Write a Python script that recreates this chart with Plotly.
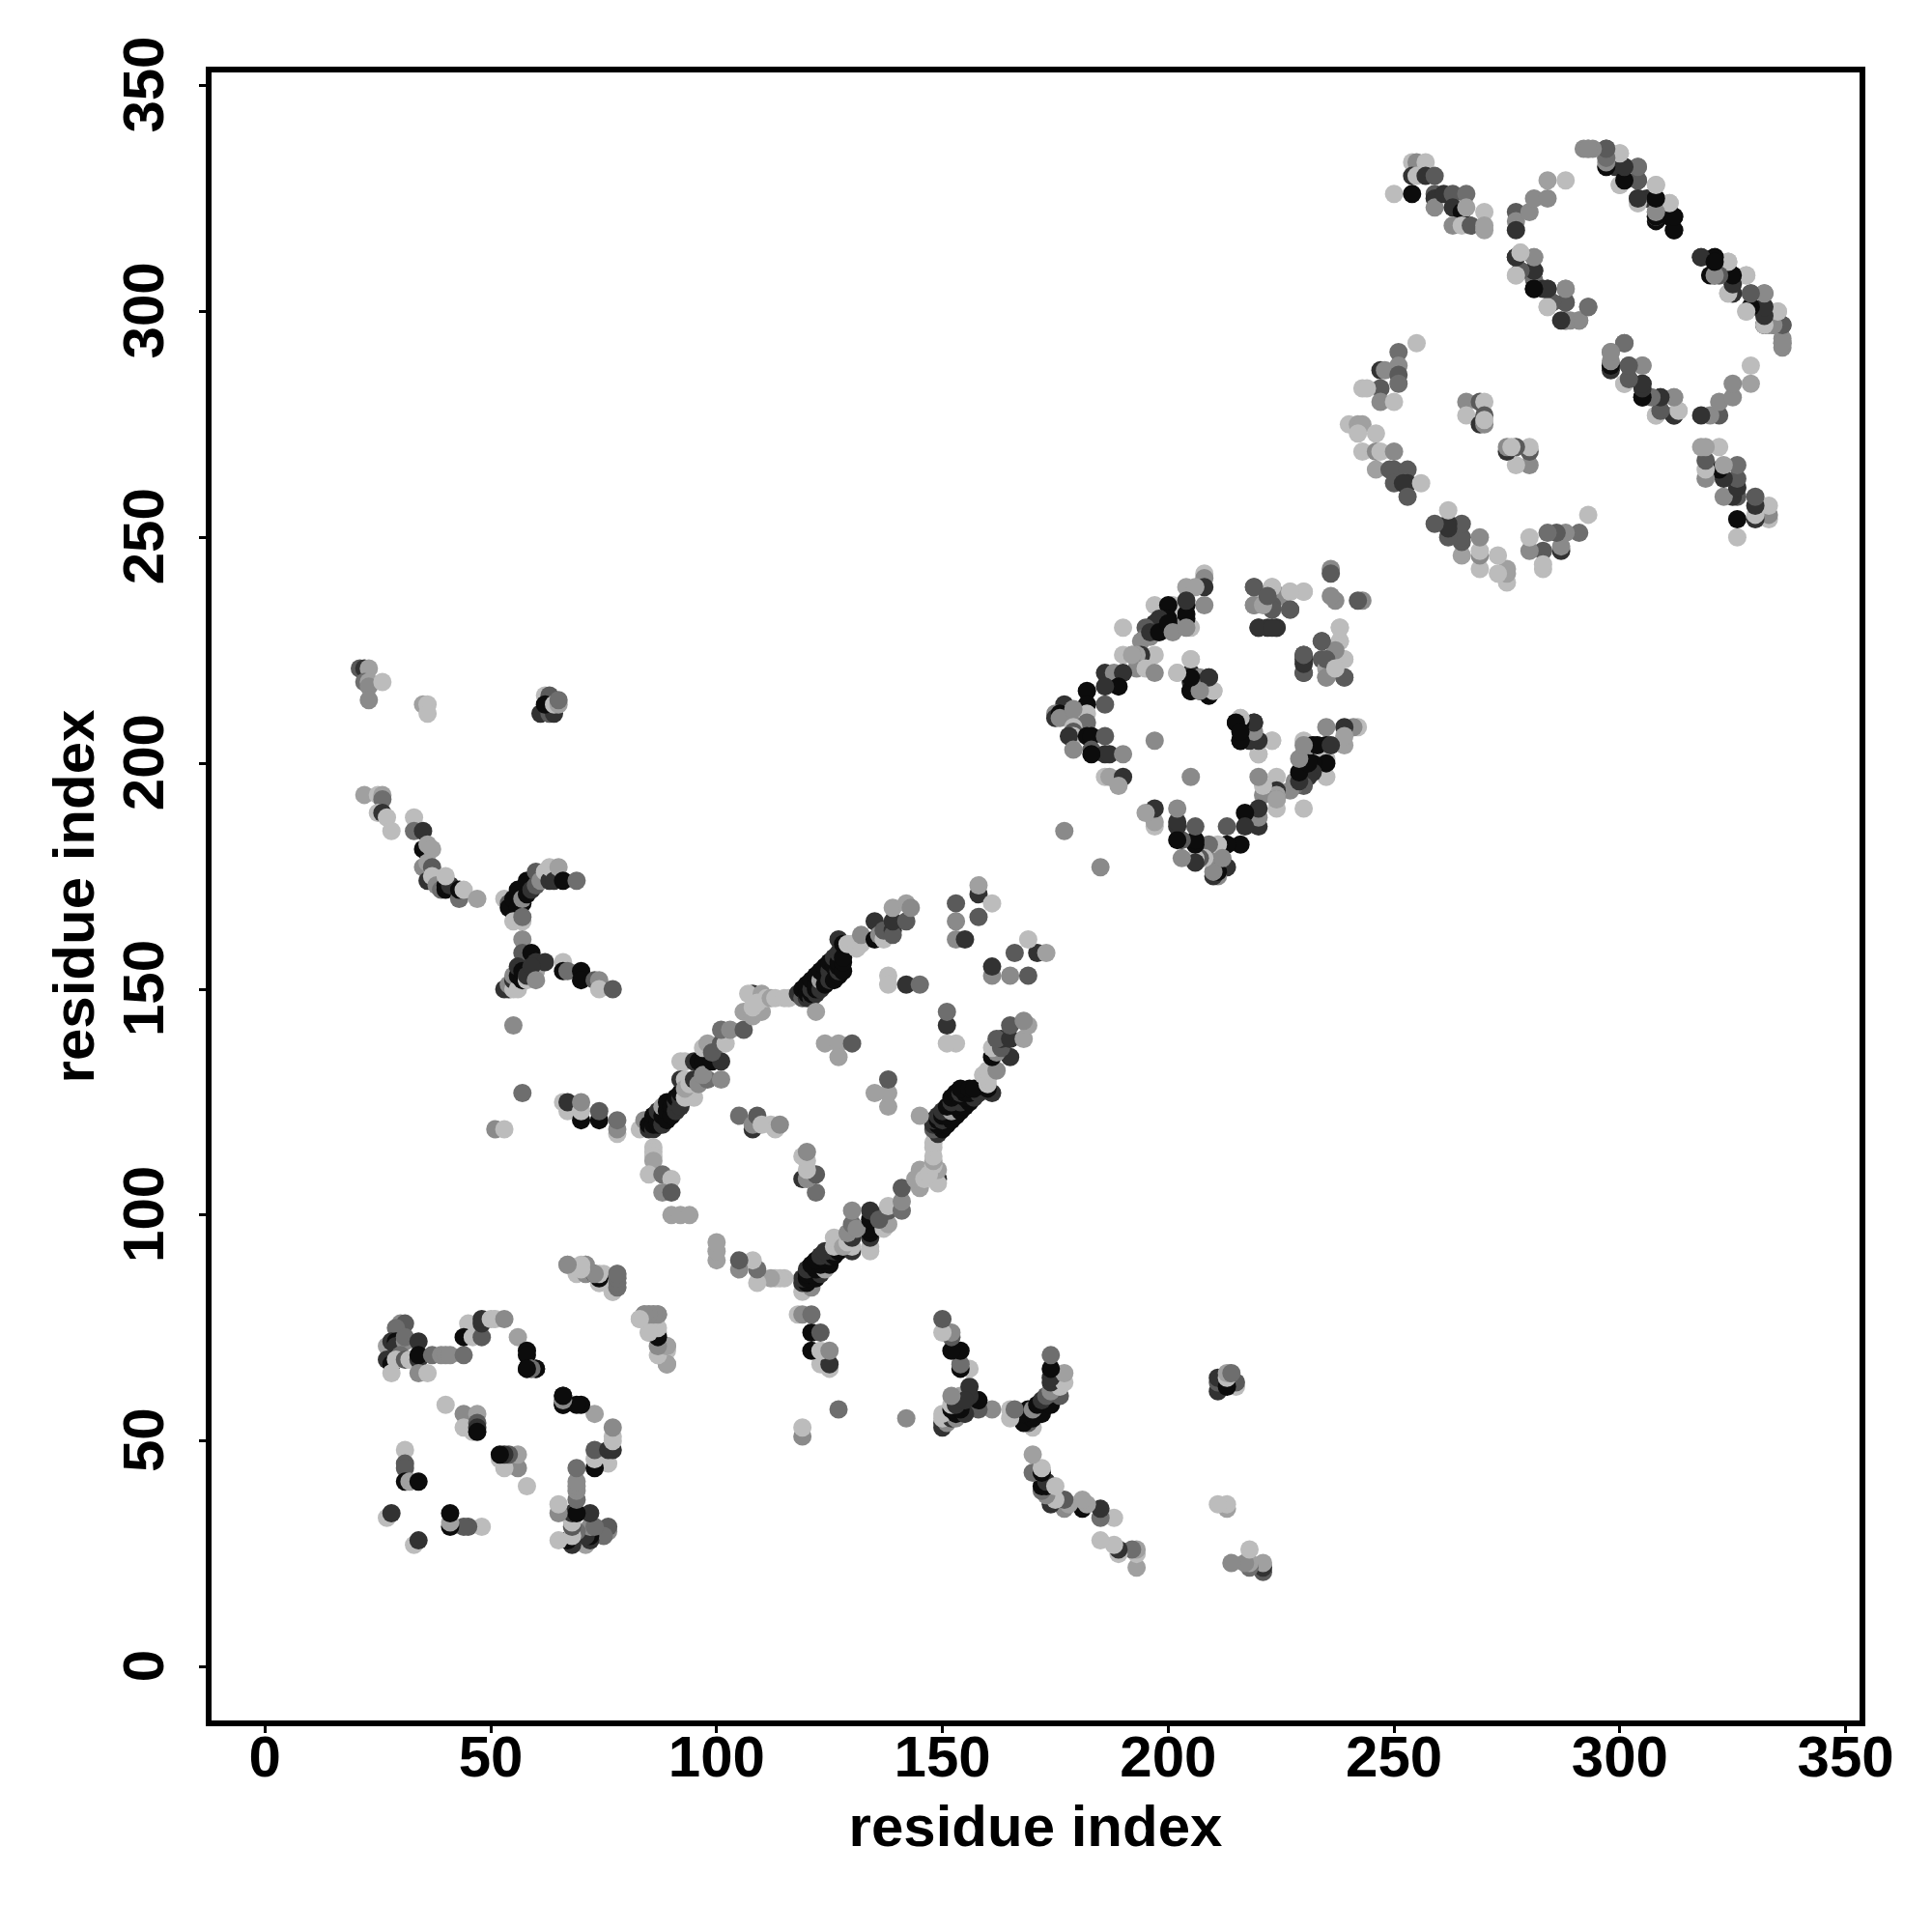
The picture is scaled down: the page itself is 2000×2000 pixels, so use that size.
import plotly.graph_objects as go

# contact score levels (higher = darker)
B, D, G, K, M, S, L = 0.94, 0.75, 0.55, 0.45, 0.31, 0.20, 0.06

contacts_n_term = [
 (21,221,G),(22,221,D),(23,221,S),(22,218,K),(23,218,S),(23,217,M),(26,218,L),(23,214,M),
 (35,213,S),(36,213,L),(36,211,L),(61,211,D),(63,211,G),(64,211,D),(62,215,L),(63,215,G),
 (62,213,B),(64,213,L),(65,213,S),(65,214,K),
 (22,193,S),(25,193,L),(26,193,S),(26,192,K),(25,189,L),(26,189,D),(27,188,L),(28,185,L),
 (33,188,L),(33,185,K),(35,185,D),(35,181,B),(36,182,S),(37,181,S),(35,177,M),(36,178,S),
 (37,177,G),(36,174,D),(37,175,L),(38,173,M),(39,172,K),(40,172,B),(40,173,B),(41,173,D),
 (40,175,L),(43,170,K),(43,172,B),(44,172,L),(47,170,S),
 (53,170,L),(54,169,G),(54,168,B),(55,170,B),(56,168,B),(56,172,B),(57,169,B),(57,170,M),
 (58,171,B),(58,174,B),(59,172,D),(60,173,G),(60,176,G),(61,174,M),(62,176,L),(63,174,D),
 (63,177,L),(64,174,D),(65,177,S),(66,174,B),(69,174,K),
 (55,165,L),(57,165,L),(57,166,K),(57,161,M),(57,158,G),(59,158,B),(60,156,D),(60,154,S),
 (62,156,D),(66,156,L),(66,154,B),(67,154,K),(70,154,B),(70,152,B),(73,152,G),(74,152,M),
 (74,150,L),(77,150,G),
 (53,150,D),(54,150,D),(54,151,M),(55,150,L),(55,152,D),(55,153,M),(56,150,L),(56,153,B),
 (57,152,B),(56,155,D),(57,154,B),(58,152,L),(58,153,D),(59,155,D),(60,152,M),
 (55,142,M),(57,127,K),(51,119,M),(53,119,L),
 (66,125,L),(67,123,L),(67,125,D),(70,121,B),(70,123,L),(70,125,M),(74,121,B),(74,123,G),
 (78,118,L),(78,119,M),(78,121,K),
]

contacts_low = [
 (67,89,S),(69,87,L),(71,89,S),(71,87,M),(73,87,B),(75,87,L),(74,85,L),(78,87,M),(78,86,M),
 (78,85,M),(78,84,M),(77,83,L),
 (83,77,L),(84,78,K),(85,78,K),(86,78,K),(87,78,K),(85,74,L),(86,74,B),(87,74,L),(87,73,M),
 (89,71,M),(88,70,L),(89,70,L),(89,67,M),
 (30,76,M),(31,76,G),(29,75,K),(27,71,S),(28,72,D),(29,72,B),(29,71,D),(31,72,M),(31,73,K),
 (34,72,D),(30,69,K),(27,68,D),(28,67,B),(29,68,L),(28,65,L),(31,68,G),(32,68,L),(34,68,D),
 (34,69,B),(34,65,M),(36,65,L),(37,69,K),(39,69,M),(40,69,M),(41,69,M),(44,69,K),
 (45,76,L),(44,73,B),(46,73,L),(48,73,G),(48,76,D),(48,77,D),(50,77,L),(51,77,L),(53,77,M),
 (56,73,S),(58,70,B),(58,69,B),(58,66,B),(59,66,M),(60,66,B),
 (66,60,B),(66,59,K),(66,58,B),
 (40,58,L),(44,56,M),(47,56,S),(44,53,L),(46,52,L),(47,54,G),(47,53,D),(47,52,B),
 (31,48,L),(31,45,G),(31,44,G),(31,41,B),(32,41,S),(34,41,B),
 (27,33,L),(28,34,D),
]

contacts_ring = [
 (83,119,L),(84,121,M),(85,119,D),(85,120,B),(86,119,D),(86,120,B),(86,122,B),(87,120,B),
 (87,121,B),(87,123,D),(88,120,D),(88,122,B),(88,124,S),(89,121,B),(89,123,B),(89,125,B),
 (90,122,B),(90,124,B),(91,123,D),(91,125,D),(91,126,B),(92,124,D),(92,126,D),
 (92,127,B),(93,126,L),(92,130,D),(93,130,L),(94,127,L),(92,134,L),(93,134,L),(95,126,L),
 (94,128,L),(93,128,S),(94,129,L),(95,130,D),(95,134,D),(96,134,B),(97,134,B),(96,129,M),
 (98,130,K),(97,131,M),(99,134,B),(101,134,D),(101,130,M),(97,137,L),(98,138,S),(99,136,G),
 (101,138,G),(102,138,L),(101,141,K),(103,141,M),(106,141,G),(106,145,S),(108,144,S),
 (110,145,S),(108,146,L),(108,149,D),(107,149,L),(110,149,S),(109,147,L),(111,148,L),
 (112,148,S),(113,148,L),(115,148,L),(116,148,L),
 (118,149,D),(119,148,G),(119,150,B),(120,148,D),(120,149,B),(120,151,B),(121,148,D),
 (121,149,B),(121,150,D),(121,152,B),(122,149,D),(122,150,B),(122,151,B),(122,153,B),
 (123,150,D),(123,152,S),(123,154,B),(124,151,B),(124,153,B),(124,155,B),
 (125,152,D),(125,154,D),(125,156,B),(126,152,B),(126,155,B),(126,157,D),(127,153,B),
 (127,154,D),(127,155,B),(127,156,B),(127,158,D),(128,154,B),
 (128,156,B),(128,157,B),(122,145,S),(127,161,D),(128,160,B),(129,160,L),(130,160,L),
 (131,159,L),(132,160,L),(132,162,M),(135,165,D),(135,161,B),(136,162,M),(137,161,L),
 (137,163,G),(139,163,D),(139,162,G),(139,165,D),(139,168,S),(142,165,G),(142,169,S),
 (143,168,M),
 (153,169,G),(158,171,D),(158,173,S),(161,169,L),(153,165,M),(158,166,G),(153,161,M),
 (155,161,D),(138,153,L),(138,151,L),(142,151,D),(145,151,K),
 (124,138,S),(127,138,S),(130,138,G),(127,135,S),
 (105,122,K),(108,119,D),(108,120,M),(109,122,G),(110,120,L),(112,120,L),(113,119,L),
 (114,120,M),
 (86,115,L),(86,114,L),(86,113,L),(86,112,S),(85,109,L),(88,109,K),(90,108,L),(88,105,M),
 (90,105,G),(90,100,S),(92,100,S),(94,100,S),
]

contacts_mid = [
 (190,230,L),(197,235,L),(208,242,L),(208,241,M),(208,239,D),(204,239,S),(206,239,S),
 (208,235,M),(204,235,B),(201,235,L),(200,235,B),(205,230,L),(204,232,B),(202,230,M),
 (200,232,B),(198,232,D),(197,231,D),(195,230,G),(195,228,K),(194,227,M),(196,228,M),
 (196,229,D),(198,229,B),(197,224,L),(194,224,D),(193,224,S),(192,224,M),(190,224,L),
 (193,221,M),(195,221,L),(197,220,M),(186,220,D),(188,220,M),(190,220,D),(189,217,B),
 (186,217,D),(182,216,B),(186,213,G),(182,213,B),(177,213,D),(175,211,M),(175,210,D),
 (178,211,M),(176,211,B),(176,210,M),(181,210,M),(182,211,L),(182,209,K),(179,212,M),
 (179,208,L),(179,207,G),(179,206,L),(178,206,D),(182,206,B),(183,206,B),(186,206,G),
 (179,203,M),(183,203,G),(186,202,D),(183,202,B),(187,202,D),(190,202,M),(197,205,M),
 (186,197,L),(187,197,S),(190,197,D),(189,195,S),(177,185,M),
 (192,224,S),(200,231,B),(201,229,M),(204,233,B),(204,230,M),(204,236,D),
 (205,223,L),(202,220,L),(205,220,D),(205,218,D),(205,216,B),(207,219,M),(209,219,D),
 (209,216,B),(210,216,L),(209,215,B),(205,216,B),(207,216,B),(215,209,B),(216,210,L),
 (219,209,D),(216,205,B),(216,207,M),(219,205,B),(223,205,L),(220,202,L),
 (219,239,G),(223,239,L),(227,238,L),(225,237,M),(230,238,L),(219,235,M),(223,235,G),
 (221,237,L),(227,234,G),(220,230,G),(222,230,D),(224,230,G),(236,243,M),(236,242,G),
 (237,236,M),(238,230,L),(238,227,L),(234,227,G),(230,224,D),(230,220,D),(234,223,G),
 (239,223,L),(235,219,M),(239,219,G),(235,221,S),(237,222,G),(230,223,D),
]

contacts_c_term = [
 (255,293,L),(251,291,K),(247,287,D),(248,287,M),(251,288,M),(251,286,G),(247,283,G),
 (251,284,K),(243,283,L),(244,283,L),(247,280,M),(250,280,L),
 (240,275,L),(242,275,S),(243,275,S),(242,273,L),(246,273,L),(243,269,L),(246,269,M),
 (247,269,L),(250,269,M),(246,265,S),(249,265,G),(250,265,G),(253,265,G),(250,262,G),
 (253,262,D),(252,262,D),(256,262,L),(253,259,G),
 (266,280,M),(269,280,G),(270,280,L),(266,277,L),(270,277,G),(269,275,D),(270,275,M),
 (270,276,L),
 (250,326,L),(254,333,L),(255,333,M),(257,333,L),(254,330,D),(255,330,L),(254,326,B),
 (257,330,D),(259,330,G),(259,326,G),(259,325,D),(259,323,M),(261,326,D),(263,326,G),
 (266,326,K),(263,323,D),(265,322,B),(266,323,S),(263,319,M),(265,319,L),(267,319,G),
 (270,322,L),(270,318,S),(270,319,S),
 (277,322,G),(277,320,M),(277,318,D),(280,322,M),(281,325,M),(284,325,M),(284,329,S),
 (288,329,L),
 (277,312,D),(278,313,L),(281,312,M),(277,308,L),(278,309,G),(281,309,D),(281,307,K),
 (281,305,B),(283,305,D),(284,305,D),(288,305,M),(284,301,L),(285,302,G),(288,302,G),
 (293,301,K),(288,298,B),(289,298,M),(291,298,M),
 (292,336,M),(293,336,M),(297,336,G),(297,334,M),(297,332,L),(300,335,L),(299,332,D),
 (301,332,D),(304,332,M),(301,329,B),(300,328,L),(304,329,G),(308,328,L),(304,325,D),
 (304,324,L),(306,325,D),(308,325,B),(311,324,L),(308,322,G),(308,320,B),(308,321,M),
 (312,321,B),(312,318,D),(311,321,B),
 (318,312,B),(321,312,B),(324,311,L),(321,308,B),(322,308,M),(325,308,B),(328,308,L),
 (324,304,L),(325,304,D),(329,304,G),(332,304,K),(328,300,L),(329,301,B),(332,301,D),
 (335,300,L),(332,297,B),(333,297,M),(334,297,K),(336,297,G),(336,294,M),(336,293,M),
 (298,291,M),(298,288,M),(298,287,D),(301,293,K),(302,288,G),(305,288,M),(302,285,G),
 (301,284,L),(305,284,D),(305,281,B),(309,281,D),(312,281,M),(309,278,G),(308,277,L),
 (312,277,D),(313,278,L),
]

groups = [contacts_n_term, contacts_low, contacts_ring, contacts_mid, contacts_c_term]
contacts = [c for g in groups for c in g]

res_i = [c[0] for c in contacts]
res_j = [c[1] for c in contacts]
score = [c[2] for c in contacts]

tick_values = [0, 50, 100, 150, 200, 250, 300, 350]

fig = go.Figure(go.Scatter(
    x=res_i + res_j,
    y=res_j + res_i,
    mode="markers",
    marker=dict(
        size=19, line=dict(width=0),
        color=score + score, cmin=0, cmax=1,
        colorscale=[[0, "#c8c8c8"], [1, "#000000"]], showscale=False,
    ),
    hoverinfo="skip",
))

font = dict(family="Liberation Sans", size=60, color="black", weight=700)
title_font = dict(family="Liberation Sans", size=60, color="black", weight=700)
axis = dict(
    tickmode="array", tickvals=tick_values, ticktext=[str(v) for v in tick_values],
    showgrid=False, zeroline=False, showline=True, linecolor="black", linewidth=6,
    mirror=True, ticks="outside", ticklen=7, tickwidth=3, tickcolor="black",
    tickfont=font,
)
fig.update_layout(
    width=2000, height=2000, autosize=False,
    paper_bgcolor="white", plot_bgcolor="white", showlegend=False,
    margin=dict(l=219, r=75, t=75, b=219, pad=0),
    xaxis=dict(axis, range=[-11.83, 353.08], ticklabelstandoff=-27,
               title=dict(text="residue index", standoff=20, font=title_font)),
    yaxis=dict(axis, range=[-11.85, 352.9], tickangle=-90, ticklabelstandoff=13,
               ticklabelshift=8,
               title=dict(text="residue index", standoff=0, font=title_font)),
)
fig.write_html("out.html", post_script="document.body.style.margin='0';",
               config={"displayModeBar": False})
